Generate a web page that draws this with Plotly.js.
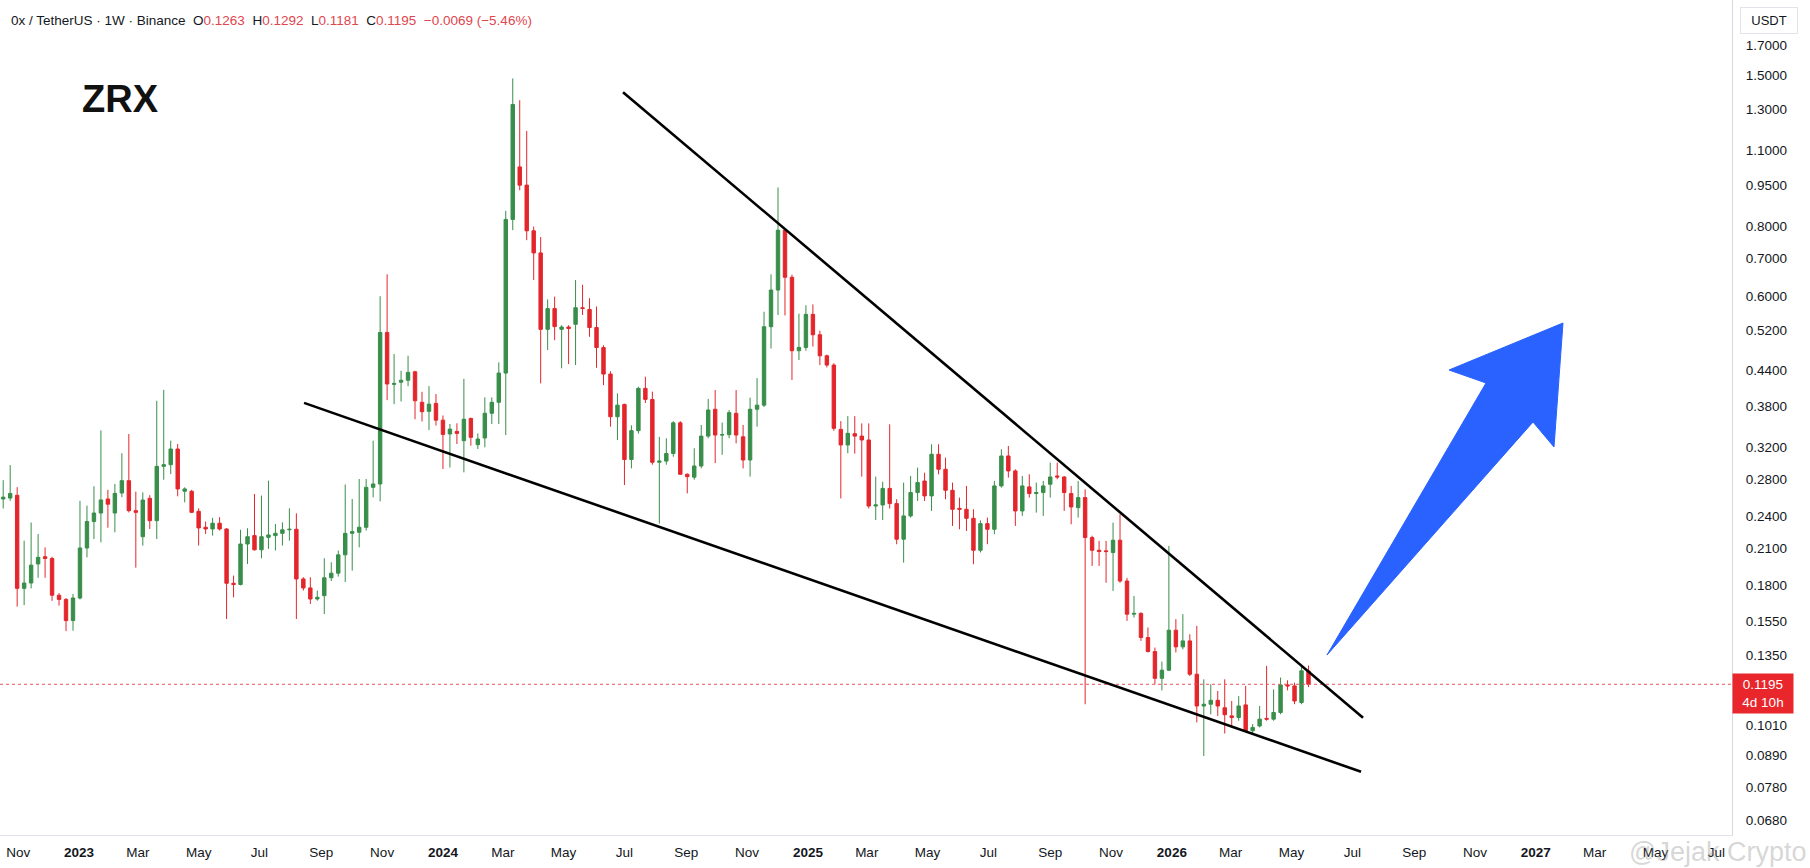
<!DOCTYPE html>
<html>
<head>
<meta charset="utf-8">
<script src="https://cdn.plot.ly/plotly-3.0.1.min.js"></script>
<style>
html,body{margin:0;padding:0;background:#ffffff;}
#chart{width:1810px;height:868px;}
</style>
</head>
<body>
<div id="chart"></div>
<script>
// ---------- DATA (weekly ZRX/USDT, Binance) ----------
const firstWeek = '2022-10-17';   // Monday of the first visible weekly candle

const open = [
0.258,0.259,0.262,0.178,0.182,0.197,0.203,0.2015,0.173,0.170,
0.1557,0.171,0.2105,0.235,0.2434,0.258,0.2434,0.2645,0.2784,0.2458,
0.2206,0.2587,0.2358,0.2955,0.2975,0.3175,0.2664,0.2664,0.2451,0.2294,
0.2278,0.2333,0.2278,0.1818,0.1809,0.214,0.2216,0.2089,0.220,0.2216,
0.2237,0.227,0.2275,0.1851,0.1783,0.1703,0.1727,0.186,0.1896,0.2046,
0.2237,0.2247,0.2294,0.2708,0.2746,0.5153,0.4153,0.4191,0.4225,0.4376,
0.3855,0.3713,0.3838,0.358,0.338,0.3416,0.3287,0.3605,0.3233,0.3324,
0.3683,0.3855,0.4353,0.824,1.025,0.9503,0.786,0.717,0.522,0.569,
0.522,0.527,0.533,0.571,0.567,0.526,0.484,0.4335,0.3631,0.3822,
0.304,0.3427,0.4085,0.390,0.3005,0.302,0.3117,0.354,0.2859,0.2825,
0.2959,0.335,0.3745,0.3365,0.337,0.3683,0.334,0.3034,0.3745,0.381,
0.5277,0.6145,0.788,0.648,0.4776,0.4842,0.5555,0.5104,0.4677,0.45,
0.3445,0.3229,0.3384,0.335,0.3297,0.2506,0.2517,0.2696,0.2531,0.2183,
0.2405,0.265,0.278,0.2613,0.3107,0.2919,0.2675,0.2482,0.2472,0.2381,
0.2085,0.2329,0.2275,0.2724,0.3085,0.2899,0.2455,0.2713,0.2639,0.265,
0.2743,0.2839,0.2827,0.2639,0.2489,0.2595,0.2198,0.2085,0.208,0.2066,
0.2174,0.1835,0.1599,0.1604,0.1451,0.1369,0.1225,0.1267,0.1496,0.1396,
0.1431,0.1246,0.1092,0.110,0.1118,0.1084,0.1048,0.1041,0.1097,0.0985,
0.1005,0.1037,0.1034,0.1063,0.1192,0.1187,0.1108,0.1263
];
const high = [
0.279,0.297,0.271,0.217,0.234,0.223,0.211,0.203,0.1745,0.171,
0.1739,0.256,0.251,0.272,0.343,0.268,0.2746,0.312,0.338,0.266,
0.2652,0.2621,0.388,0.406,0.3287,0.3242,0.2708,0.268,0.2482,0.2349,
0.2386,0.2393,0.2285,0.1877,0.227,0.2285,0.2634,0.2617,0.2784,0.2326,
0.2342,0.2482,0.2431,0.1864,0.1864,0.1764,0.2017,0.1984,0.2083,0.274,
0.258,0.2803,0.2803,0.3287,0.599,0.656,0.471,0.4395,0.4678,0.4395,
0.4027,0.4123,0.399,0.365,0.3523,0.3533,0.425,0.3616,0.3388,0.3935,
0.3935,0.455,0.854,1.48,1.352,1.19,0.80,0.766,0.591,0.598,
0.531,0.531,0.6405,0.628,0.594,0.574,0.4885,0.4386,0.4001,0.3833,
0.3504,0.4113,0.4288,0.403,0.334,0.332,0.3565,0.3565,0.287,0.3185,
0.3508,0.391,0.4057,0.3544,0.3734,0.4057,0.3508,0.393,0.4263,0.5616,
0.656,0.941,0.79,0.655,0.557,0.577,0.579,0.519,0.470,0.4535,
0.3565,0.364,0.364,0.3532,0.3532,0.2831,0.2772,0.3518,0.2577,0.2762,
0.2839,0.2939,0.2878,0.3238,0.3238,0.3064,0.2762,0.2595,0.2724,0.2472,
0.2361,0.2388,0.2781,0.3172,0.3216,0.2919,0.2839,0.2859,0.2762,0.2781,
0.3001,0.3001,0.2839,0.2724,0.2781,0.2686,0.2215,0.2168,0.2168,0.2339,
0.2421,0.1859,0.1725,0.1612,0.1513,0.1392,0.1313,0.2123,0.1566,0.1599,
0.1471,0.1523,0.122,0.1195,0.1162,0.122,0.1115,0.1138,0.1187,0.1013,
0.1092,0.129,0.117,0.1229,0.1215,0.1203,0.1285,0.1292
];
const low = [
0.248,0.256,0.165,0.166,0.178,0.186,0.186,0.169,0.1657,0.149,
0.1493,0.170,0.2025,0.2185,0.2155,0.229,0.2247,0.260,0.244,0.194,
0.2126,0.2278,0.2185,0.2795,0.2861,0.2609,0.2545,0.2434,0.2126,0.2231,
0.2216,0.2263,0.1567,0.1715,0.1802,0.197,0.2083,0.2017,0.2097,0.2083,
0.2126,0.217,0.1567,0.1764,0.1668,0.1691,0.160,0.1835,0.1869,0.1827,
0.1916,0.2111,0.2263,0.2598,0.2555,0.389,0.3826,0.3869,0.4123,0.3594,
0.356,0.3435,0.350,0.2922,0.294,0.3242,0.2882,0.322,0.3175,0.3197,
0.3523,0.3523,0.3365,0.788,0.93,0.756,0.6405,0.417,0.479,0.499,
0.444,0.452,0.450,0.554,0.506,0.445,0.414,0.3484,0.3295,0.2734,
0.293,0.3384,0.3844,0.2975,0.233,0.2975,0.3075,0.2855,0.2641,0.2795,
0.293,0.332,0.2995,0.31,0.332,0.3251,0.293,0.2831,0.3484,0.378,
0.482,0.554,0.553,0.423,0.4595,0.4776,0.486,0.45,0.4455,0.3425,
0.2586,0.312,0.3115,0.2831,0.248,0.2365,0.2365,0.248,0.2138,0.1981,
0.2388,0.2559,0.2559,0.2455,0.2859,0.2577,0.2307,0.2275,0.2259,0.1968,
0.2066,0.2138,0.2229,0.2705,0.2819,0.2307,0.2405,0.2595,0.2438,0.2405,
0.2595,0.280,0.2455,0.2323,0.2388,0.110,0.1954,0.1954,0.1822,0.1761,
0.1822,0.1555,0.1577,0.1431,0.1364,0.1195,0.1165,0.1263,0.1364,0.1382,
0.1237,0.102,0.0887,0.1055,0.1048,0.0974,0.0999,0.1027,0.0985,0.0974,
0.0999,0.1027,0.1027,0.1055,0.1165,0.110,0.110,0.1181
];
const close = [
0.260,0.264,0.178,0.182,0.196,0.2025,0.2015,0.173,0.170,0.1557,
0.171,0.2105,0.235,0.2434,0.257,0.2525,0.2641,0.2784,0.2458,0.2441,
0.2569,0.2358,0.2955,0.2975,0.3175,0.269,0.269,0.2441,0.2288,0.2278,
0.2333,0.2278,0.1818,0.1809,0.214,0.2206,0.2089,0.2206,0.2222,0.2237,
0.227,0.2275,0.1851,0.1783,0.1703,0.1715,0.186,0.1896,0.2046,0.2237,
0.2253,0.2294,0.2708,0.2746,0.5153,0.416,0.4169,0.4225,0.4365,0.388,
0.3708,0.3826,0.358,0.3374,0.3449,0.3388,0.3594,0.3333,0.331,0.3683,
0.3855,0.4353,0.824,1.328,0.950,0.786,0.717,0.522,0.569,0.528,
0.527,0.524,0.571,0.5694,0.526,0.484,0.4335,0.3631,0.381,0.304,
0.3427,0.4085,0.3902,0.3005,0.302,0.3117,0.354,0.2859,0.2831,0.2959,
0.335,0.3734,0.3365,0.337,0.3693,0.3365,0.3034,0.3745,0.381,0.5277,
0.6145,0.788,0.648,0.4776,0.4842,0.5555,0.5104,0.4677,0.45,0.346,
0.3229,0.3389,0.335,0.3297,0.2506,0.2517,0.2696,0.2531,0.2183,0.2405,
0.265,0.2762,0.2613,0.3107,0.2919,0.2675,0.2472,0.2472,0.2381,0.2085,
0.2329,0.2275,0.2724,0.3085,0.2899,0.2455,0.2724,0.2639,0.265,0.2724,
0.2827,0.2827,0.265,0.2496,0.2595,0.2198,0.2085,0.2074,0.2074,0.2174,
0.1835,0.1599,0.1604,0.1451,0.1369,0.1225,0.1267,0.1496,0.1396,0.1431,
0.1246,0.1092,0.110,0.1118,0.1092,0.1053,0.1041,0.1092,0.0985,0.0999,
0.1034,0.1034,0.1063,0.1192,0.1187,0.1115,0.1264,0.1195
];

// price-axis labels
const yTickVals = [1.7,1.5,1.3,1.1,0.95,0.8,0.7,0.6,0.52,0.44,0.38,0.32,0.28,0.24,0.21,0.18,0.155,0.135,0.101,0.089,0.078,0.068];

// visible window
const xRange = ['2022-10-13 19:00','2027-07-16 17:00'];
const yRangePrice = [0.0639, 2.05];

// hand-drawn trend lines (date, price)
const upperTrendDates  = ['2024-06-29 14:00','2026-07-11 17:00'];
const upperTrendPrices = [1.398, 0.1040];
const lowerTrendDates  = ['2023-08-14 17:00','2026-07-09 17:00'];
const lowerTrendPrices = [0.3846, 0.0831];

const countdown = '4d 10h';

// ---------- BUILD ----------
const DAY = 86400000;
const start = Date.parse(firstWeek + 'T00:00:00Z');
const weeks = open.map((_, i) => new Date(start + i * 7 * DAY).toISOString().slice(0, 10));

const monthNames = ['Jan','Feb','Mar','Apr','May','Jun','Jul','Aug','Sep','Oct','Nov','Dec'];
const xTickVals = [], xTickText = [];
for (let y = 2022, m = 10; y < 2027 || (y === 2027 && m <= 6); ) {
  xTickVals.push(y + '-' + String(m + 1).padStart(2, '0') + '-01');
  xTickText.push(m === 0 ? '<b>' + y + '</b>' : monthNames[m]);
  m += 2; if (m > 11) { m -= 12; y += 1; }
}

const n = close.length;
const last = n - 1;
const chg = close[last] - close[last - 1];
const pct = chg / close[last - 1] * 100;
const fmt = v => v.toFixed(4);
const sgn = v => (v < 0 ? '\u2212' : '+');
const RED_TXT = '#e0464e';
const DARK = '#131722';

const headerText =
  '<span style="color:' + DARK + '">0x / TetherUS · 1W · Binance  O</span>' +
  '<span style="color:' + RED_TXT + '">' + fmt(open[last]) + '</span>' +
  '<span style="color:' + DARK + '">  H</span>' +
  '<span style="color:' + RED_TXT + '">' + fmt(high[last]) + '</span>' +
  '<span style="color:' + DARK + '">  L</span>' +
  '<span style="color:' + RED_TXT + '">' + fmt(low[last]) + '</span>' +
  '<span style="color:' + DARK + '">  C</span>' +
  '<span style="color:' + RED_TXT + '">' + fmt(close[last]) + '  ' + sgn(chg) + Math.abs(chg).toFixed(4) +
  ' (' + sgn(chg) + Math.abs(pct).toFixed(2) + '%)</span>';

const GREEN = '#388e4a';
const RED = '#e3262c';
const FONT = 'Liberation Sans, Arial, sans-serif';

const traces = [
  {
    type: 'candlestick',
    x: weeks, open: open, high: high, low: low, close: close,
    increasing: {line: {color: GREEN, width: 1}, fillcolor: GREEN},
    decreasing: {line: {color: RED, width: 1}, fillcolor: RED},
    hoverinfo: 'skip', showlegend: false
  },
  {
    type: 'scatter', mode: 'lines',
    x: [xRange[0], xRange[1]], y: [close[last], close[last]],
    line: {color: '#e8555c', width: 1, dash: 'dot'},
    hoverinfo: 'skip', showlegend: false
  },
  {
    type: 'scatter', mode: 'lines',
    x: upperTrendDates, y: upperTrendPrices,
    line: {color: '#000000', width: 2.6},
    hoverinfo: 'skip', showlegend: false
  },
  {
    type: 'scatter', mode: 'lines',
    x: lowerTrendDates, y: lowerTrendPrices,
    line: {color: '#000000', width: 2.6},
    hoverinfo: 'skip', showlegend: false
  }
];

const layout = {
  width: 1810, height: 868,
  margin: {l: 0, r: 78, t: 0, b: 33, pad: 0},
  paper_bgcolor: '#ffffff', plot_bgcolor: '#ffffff',
  showlegend: false,
  font: {family: FONT, color: DARK},
  xaxis: {
    type: 'date', range: xRange,
    tickvals: xTickVals, ticktext: xTickText,
    showgrid: false, zeroline: false,
    showline: true, linecolor: '#e0e3eb', linewidth: 1,
    ticks: '', ticklabelstandoff: 5,
    tickfont: {family: FONT, size: 13.5, color: DARK},
    rangeslider: {visible: false}, fixedrange: true
  },
  yaxis: {
    type: 'log', side: 'right',
    range: [Math.log10(yRangePrice[0]), Math.log10(yRangePrice[1])],
    tickvals: yTickVals, ticktext: yTickVals.map(fmt),
    showgrid: false, zeroline: false,
    showline: true, linecolor: '#d6d8de', linewidth: 1,
    ticks: '', ticklabelstandoff: 10,
    tickfont: {family: FONT, size: 13.5, color: DARK},
    fixedrange: true
  },
  shapes: [
    { // big blue arrow drawn on the chart
      type: 'path', xref: 'paper', yref: 'paper', layer: 'above',
      path: 'M 0.76617 0.21557 L 0.88510 0.49461 L 0.89723 0.46467 L 0.90242 0.61317 L 0.83661 0.55689 L 0.85797 0.54132 Z',
      fillcolor: '#2962ff', line: {color: '#2962ff', width: 1}
    }
  ],
  annotations: [
    {
      xref: 'paper', yref: 'paper', x: 0.0052, y: 0.975,
      xanchor: 'left', yanchor: 'middle', showarrow: false,
      text: headerText, font: {family: FONT, size: 13.5, color: DARK}
    },
    {
      xref: 'paper', yref: 'paper', x: 0.0462, y: 0.881,
      xanchor: 'left', yanchor: 'middle', showarrow: false,
      text: '<b>ZRX</b>', font: {family: FONT, size: 38, color: '#111111'}
    },
    {
      xref: 'paper', yref: 'paper', x: 1.0046, y: 0.9749,
      xanchor: 'left', yanchor: 'middle', showarrow: false,
      text: 'USDT', font: {family: FONT, size: 13, color: DARK},
      bordercolor: '#e0e3eb', borderwidth: 1, borderpad: 5, bgcolor: '#ffffff', width: 46
    },
    {
      xref: 'paper', yref: 'y', x: 1, y: Math.log10(close[last]),
      xanchor: 'left', yanchor: 'top', yshift: 11, xshift: 0, showarrow: false,
      text: fmt(close[last]) + '<br>' + countdown,
      font: {family: FONT, size: 13.5, color: '#ffffff'},
      bgcolor: '#e8262c', borderpad: 3, width: 54, align: 'center'
    },
    {
      xref: 'paper', yref: 'paper', x: 1.0439, y: -0.0204,
      xanchor: 'right', yanchor: 'middle', showarrow: false,
      text: '@Jejak Crypto', font: {family: FONT, size: 27, color: 'rgba(150,150,150,0.4)'}
    }
  ]
};

Plotly.newPlot('chart', traces, layout, {displayModeBar: false, staticPlot: true});
</script>
</body>
</html>
